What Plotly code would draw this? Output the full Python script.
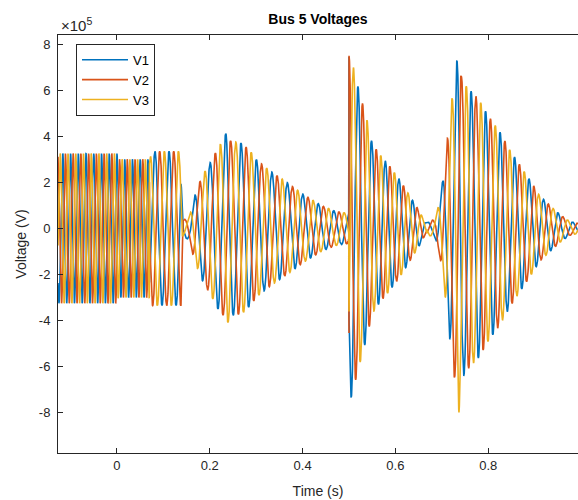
import numpy as np
import plotly.graph_objects as go

# Envelope of the three-phase voltage at bus 5: time (s) and peak amplitude (x1e5 V)
env_t = [-0.130, 0.000, 0.003, 0.070, 0.076, 0.138, 0.141, 0.155, 0.165, 0.180,
         0.190, 0.205, 0.220, 0.230, 0.236, 0.245, 0.270, 0.290, 0.300, 0.330,
         0.370, 0.400, 0.440, 0.470, 0.4995, 0.500, 0.506, 0.519, 0.539, 0.550,
         0.567, 0.588, 0.610, 0.630, 0.653, 0.665, 0.685, 0.695, 0.702, 0.711,
         0.721, 0.732, 0.737, 0.742, 0.752, 0.780, 0.800, 0.825, 0.847, 0.870,
         0.890, 0.910, 0.933, 0.955, 0.976, 1.000]
env_amp = [3.25, 3.25, 3.00, 3.00, 3.35, 3.35, 0.35, 0.50, 1.30, 2.10,
           2.50, 3.00, 3.60, 3.80, 4.25, 3.80, 3.70, 3.30, 3.00, 2.50,
           1.95, 1.50, 1.00, 0.75, 0.65, 7.50, 7.30, 6.20, 4.70, 3.70,
           3.20, 2.70, 2.10, 1.45, 0.70, 0.25, 0.40, 1.20, 2.10, 3.80,
           5.50, 7.25, 8.00, 6.60, 6.20, 5.60, 4.90, 4.20, 3.40, 2.70,
           2.10, 1.45, 1.00, 0.60, 0.30, 0.20]

# Operating intervals: start time, electrical frequency (Hz), reference time and V1 phase there (deg)
seg_start = [-0.130, 0.070, 0.141, 0.500, 0.668]
seg_freq = [60.0, 33.0, 30.0, 34.0, 32.0]
seg_ref_t = [0.000, 0.082, 0.234, 0.500, 0.732]
seg_ref_phase = [90.0, 90.0, 90.0, 210.0, 90.0]

series_names = ["V1", "V2", "V3"]
phase_shift_deg = [0.0, -120.0, 120.0]
colors = ["#0072BD", "#D95319", "#EDB120"]

x_ticks = [0, 0.2, 0.4, 0.6, 0.8, 1.0]
x_tick_text = ["0", "0.2", "0.4", "0.6", "0.8", "1"]
y_ticks = [-8, -6, -4, -2, 0, 2, 4, 6, 8]          # x1e5 V
y_scale = 1e5

x_range = [-0.127, 0.9935]
y_range = [-9.75e5, 8.4e5]

# Build the waveforms
t = np.arange(-0.127, 1.0005, 1e-4)
amp = np.interp(t, env_t, env_amp) * y_scale
seg = np.searchsorted(seg_start, t, side="right") - 1
seg = np.clip(seg, 0, len(seg_start) - 1)
freq = np.asarray(seg_freq)[seg]
ref_t = np.asarray(seg_ref_t)[seg]
ref_ph = np.deg2rad(np.asarray(seg_ref_phase))[seg]
theta = ref_ph + 2 * np.pi * freq * (t - ref_t)

axis_col = "#262626"
font_fam = "Liberation Sans, Arial, Helvetica, sans-serif"

fig = go.Figure()
for name, shift, col in zip(series_names, phase_shift_deg, colors):
    v = amp * np.sin(theta + np.deg2rad(shift))
    fig.add_trace(go.Scatter(x=t, y=v, mode="lines", name=name,
                             line=dict(color=col, width=1.6)))

fig.update_layout(
    width=578, height=500,
    margin=dict(l=58, r=0, t=35, b=47),
    paper_bgcolor="white", plot_bgcolor="white",
    font=dict(family=font_fam, size=13, color=axis_col),
    title=dict(text="<b>Bus 5 Voltages</b>", x=0.5, xref="paper", xanchor="center",
               y=1 - 19 / 500, yref="container", yanchor="middle",
               font=dict(size=14, color="#000000")),
    showlegend=True,
    legend=dict(x=(76 - 58) / 520, y=0.979, xanchor="left", yanchor="top",
                bgcolor="white", bordercolor=axis_col, borderwidth=1,
                itemwidth=46,
                font=dict(size=13, color="#000000"), tracegroupgap=0),
)

fig.update_xaxes(
    range=x_range, tickvals=x_ticks, ticktext=x_tick_text,
    ticks="inside", ticklen=5, tickcolor=axis_col, tickwidth=1,
    showline=True, linecolor=axis_col, linewidth=1, mirror="ticks",
    showgrid=False, zeroline=False,
    title=dict(text="Time (s)", font=dict(size=14), standoff=14),
    tickfont=dict(size=13),
)
fig.update_yaxes(
    range=y_range, tickvals=[v * y_scale for v in y_ticks],
    ticktext=[str(v) for v in y_ticks],
    ticks="inside", ticklen=5, tickcolor=axis_col, tickwidth=1,
    showline=True, linecolor=axis_col, linewidth=1, mirror=False,
    showgrid=False, zeroline=False,
    title=dict(text="Voltage (V)", font=dict(size=14), standoff=8),
    tickfont=dict(size=13), ticklabelstandoff=4,
)

# Exponent marker for the y axis
fig.add_annotation(text="\u00d710<sup>5</sup>", xref="paper", yref="paper",
                   x=0, y=1, xanchor="left", yanchor="bottom", showarrow=False,
                   xshift=1, yshift=-1, font=dict(size=15, color=axis_col))

# Tick label for t = 1 s at the right edge of the axes
x_one = (1.0 - x_range[0]) / (x_range[1] - x_range[0])
fig.add_annotation(text="1", xref="paper", yref="paper", x=x_one, y=0,
                   xanchor="center", yanchor="top", yshift=-4, showarrow=False,
                   font=dict(size=13, color=axis_col))

fig.write_html("out.html")
